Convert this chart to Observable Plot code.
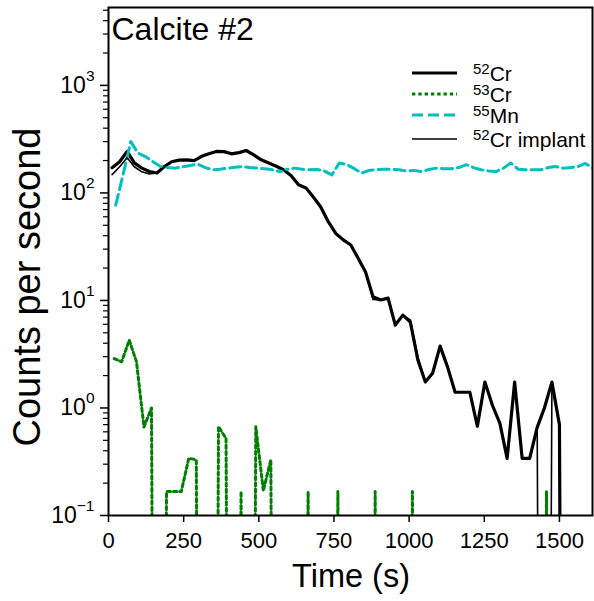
<!DOCTYPE html>
<html><head><meta charset="utf-8">
<script src="https://cdn.jsdelivr.net/npm/d3@7"></script>
<script src="https://cdn.jsdelivr.net/npm/@observablehq/plot@0.6"></script>
<style>body{margin:0;background:#fff} svg{display:block}</style>
</head><body><div id="chart"></div>
<script>
const title = "Calcite #2";
const xLabel = "Time (s)";
const yLabel = "Counts per second";
const xTicks = [0, 250, 500, 750, 1000, 1250, 1500];
const yTicks = [0.1, 1, 10, 100, 1000];

// 52Cr and 52Cr implant time points (s)
const t52 = [12,37,62,86,111,136,161,186,210,235,260,285,310,334,359,384,409,434,458,483,508,533,558,582,607,632,657,682,706,731,756,781,806,830,855,880,905,930,954,979,1004,1029,1054,1078,1103,1128,1153,1178,1202,1227,1252,1277,1302,1326,1351,1376,1401,1426,1450,1475,1500,1525,1550,1574,1599];
const cr52 = [171,195,243,190,170,158,153,176,195,202, 203,200,219,231,243,242,231,237,248,226, 203,190,177,164,145,119,111,91,74,54, 42,36.6,32.8,24.8,18.4,10.8,10.1,10.5,5.9,7.3, 6.3,2.79,1.74,2.1,3.76,2.4,1.4,1.4,1.4,0.676, 1.74,1.06,0.72,0.34,1.74,0.34,0.34,0.66,1.0,1.74, 0.70,0,0,0,0];
const cr52implant = [148,175,212,175,157,150,153,176,195,202, 203,200,219,231,243,242,231,237,248,226, 203,190,177,164,145,119,111,91,74,54, 42,36.6,32.8,24.8,18.4,10.2,10.1,10.5,5.9,7.3, 6.6,3.0,1.74,2.1,3.76,2.4,1.4,1.4,1.4,0.676, 1.74,1.06,0.72,0.34,1.74,0.34,0.34,0.66,0,1.74, 0.70,0,0,0,0];
// 53Cr time points (s)
const t53 = [19,44,69,93,118,143,168,193,217,242,267,292,317,341,366,391,416,441,465,490,515,540,565,589,614,639,664,689,713,738,763,788,813,837,862,887,912,937,961,986,1011,1036,1061,1085,1110,1135,1160,1185,1209,1234,1259,1284,1309,1333,1358,1383,1408,1433,1457,1482,1507,1532,1557,1581,1606];
const cr53 = [2.88,2.69,4.28,2.69,0.665,1.0,0,0.167,0.167,0.167, 0.34,0.33,0,0,0.67,0.52,0,0.167,0,0.67, 0.17,0.33,0,0,0,0,0.167,0,0,0, 0.167,0,0,0,0,0.167,0,0,0,0, 0.167,0,0,0,0,0,0,0,0,0, 0,0,0,0,0,0,0,0,0.167,0, 0,0,0,0,0];
// 55Mn time points (s)
const t55 = [24,49,74,98,123,148,173,198,222,247,272,297,322,346,371,396,421,446,470,495,520,545,570,594,619,644,669,694,718,743,768,793,818,842,867,892,917,942,966,991,1016,1041,1066,1090,1115,1140,1165,1190,1214,1239,1264,1289,1314,1338,1363,1388,1413,1438,1462,1487,1512,1537,1562,1586,1611,1636];
const mn55 = [77,150,300,235,218,195,176,172,170,175, 180,185,172,164,166,170,173,176,172,170, 168,164,158,165,170,166,164,165,160,147, 190,183,168,153,162,165,166,166,164,160, 162,158,165,170,168,168,172,183,172,164, 160,158,170,190,166,164,164,164,172,176, 170,172,176,188,170,168];

const FONT = "'Liberation Sans', Arial, Helvetica, sans-serif";
const styles = {
  cr52:    {stroke: "#000000", strokeWidth: 3.2, dash: null},
  cr53:    {stroke: "#008000", strokeWidth: 3,   dash: "3.4,2.9"},
  mn55:    {stroke: "#00bfbf", strokeWidth: 3,   dash: "11,5"},
  implant: {stroke: "#000000", strokeWidth: 1.6, dash: null}
};
const legendItems = [
  {iso: "52", el: "Cr", key: "cr52"},
  {iso: "53", el: "Cr", key: "cr53"},
  {iso: "55", el: "Mn", key: "mn55"},
  {iso: "52", el: "Cr implant", key: "implant"}
];

// zero counts are drawn as a plunge below the axis (log scale clip)
const FLOOR = 1e-14;
const rows = (t, v) => t.map((x, i) => ({t: x, v: v[i] > 0 ? v[i] : FLOOR}));

const minor = [];
for (let e = -1; e <= 3; e++) for (let m = 2; m <= 9; m++) { const v = m * 10 ** e; if (v <= 5300) minor.push(v); }

const lineMark = (data, s) => Plot.line(data, {x: "t", y: "v", stroke: s.stroke, strokeWidth: s.strokeWidth,
  strokeDasharray: s.dash || undefined, strokeLinejoin: "round", clip: true});

const plot = Plot.plot({
  width: 594, height: 601,
  marginLeft: 108, marginRight: 2, marginTop: 7, marginBottom: 86,
  style: {fontFamily: FONT, background: "#fff", color: "#000", overflow: "visible"},
  x: {domain: [0, 1610]},
  y: {type: "log", domain: [0.1, 5300]},
  marks: [
    lineMark(rows(t52, cr52), styles.cr52),
    lineMark(rows(t53, cr53), styles.cr53),
    lineMark(rows(t55, mn55), styles.mn55),
    lineMark(rows(t52, cr52implant), styles.implant),
    Plot.axisX({ticks: xTicks, tickSize: 7, tickPadding: 10, fontSize: 22, strokeWidth: 1.5, label: null, tickFormat: d => String(d)}),
    Plot.axisY({ticks: minor, tickSize: 5, strokeWidth: 1.2, label: null, tickFormat: () => ""}),
    Plot.axisY({ticks: yTicks, tickSize: 8, tickPadding: 6, fontSize: 23, strokeWidth: 1.5, label: null,
      tickFormat: d => String(Math.round(Math.log10(d)))}),
    Plot.frame({stroke: "#000", strokeWidth: 2})
  ]
});
document.getElementById("chart").appendChild(plot);
const svg = d3.select(plot);

// y tick labels as 10 with a superscript exponent
svg.selectAll('g[aria-label="y-axis tick label"] text').each(function () {
  const e = this.textContent.trim();
  if (e === "") { this.remove(); return; }
  this.textContent = "";
  const t = d3.select(this);
  t.append("tspan").text("10");
  t.append("tspan").attr("dy", -12).attr("font-size", 15.5).text(e.replace("-", "\u2212"));
});

const addText = (x, y, size, anchor, str, rotate) => svg.append("text")
  .attr("font-family", FONT).attr("font-size", size).attr("text-anchor", anchor).attr("fill", "#000")
  .attr("transform", `translate(${x},${y})${rotate ? ` rotate(${rotate})` : ""}`).text(str);

// title inside the frame
addText(111.5, 40, 32, "start", title);
// axis labels
addText(351, 587, 32.5, "middle", xLabel);
addText(40, 287, 38, "middle", yLabel, -90);

// legend
const legendY = [73, 94, 115, 139];
const lg = svg.append("g");
legendItems.forEach((it, i) => {
  const s = styles[it.key], y = legendY[i];
  lg.append("line").attr("x1", 412).attr("x2", 457).attr("y1", y).attr("y2", y)
    .attr("stroke", s.stroke).attr("stroke-width", s.strokeWidth)
    .attr("stroke-dasharray", s.dash);
  const t = lg.append("text").attr("font-family", FONT).attr("text-anchor", "start").attr("fill", "#000")
    .attr("x", 473).attr("y", y + 7.5);
  t.append("tspan").attr("font-size", 15).attr("dy", -6.5).text(it.iso);
  t.append("tspan").attr("font-size", 21).attr("dy", 6.5).text(it.el);
});
</script>
</body></html>
